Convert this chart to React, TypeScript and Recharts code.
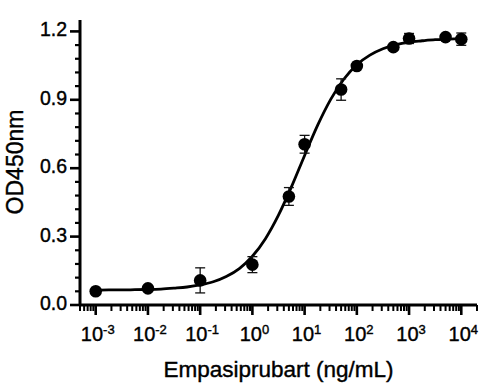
import {
  ComposedChart,
  Line,
  Scatter,
  ErrorBar,
  XAxis,
  YAxis,
  Label,
} from 'recharts'

// measured points (ng/mL vs OD450)
const concentrations = [0.001, 0.01, 0.1, 1, 5, 10, 50, 100, 500, 1000, 5000, 10000]
const odMeans = [0.06, 0.073, 0.108, 0.177, 0.476, 0.705, 0.945, 1.048, 1.131, 1.169, 1.175, 1.166]
const odErrors = [0.005, 0.005, 0.055, 0.035, 0.039, 0.039, 0.047, 0.01, 0.01, 0.022, 0.01, 0.027]

// fitted curve at quarter-decade steps
const curveX = [
  0.001, 0.00178, 0.00316, 0.00562, 0.01, 0.0178, 0.0316, 0.0562, 0.1, 0.178, 0.316, 0.562,
  1, 1.78, 3.16, 5.62, 10, 17.8, 31.6, 56.2, 100, 178, 316, 562, 1000, 1780, 3160, 5620, 10000,
]
const curveY = [
  0.065, 0.066, 0.066, 0.067, 0.068, 0.07, 0.074, 0.079, 0.088, 0.102, 0.125, 0.16,
  0.214, 0.291, 0.394, 0.519, 0.656, 0.789, 0.902, 0.99, 1.054, 1.096, 1.124, 1.142,
  1.153, 1.159, 1.164, 1.166, 1.168,
]

const xDecades = [0.001, 0.01, 0.1, 1, 10, 100, 1000, 10000]
const xMinorSteps = [2, 3, 4, 5, 6, 7, 8, 9]
const yMajorTicks = [0, 0.3, 0.6, 0.9, 1.2]
const yMinorTicks = [0.06, 0.12, 0.18, 0.24, 0.36, 0.42, 0.48, 0.54, 0.66, 0.72, 0.78, 0.84, 0.96, 1.02, 1.08, 1.14]

const FONT = '"Liberation Sans", Arial, Helvetica, sans-serif'
// a hair of stroke makes the text as heavy as in the original
const heavy = { fill: '#000', stroke: '#000', strokeWidth: 0.4 }

const points = concentrations.map((x, i) => ({ x, y: odMeans[i], err: odErrors[i] }))
const curve = curveX.map((x, i) => ({ x, y: curveY[i] }))

const xTicks = [
  0.0005, 0.0006, 0.0007, 0.0008, 0.0009,
  ...xDecades.flatMap((d) => [d, ...(d < 10000 ? xMinorSteps.map((m) => +(d * m).toPrecision(3)) : [])]),
  20000,
]
const yTicks = [...yMajorTicks, ...yMinorTicks].sort((a, b) => a - b)

function XTick(props: any) {
  const { x, y, payload } = props
  const e = Math.log10(payload.value)
  const major = Math.abs(e - Math.round(e)) < 1e-6
  return (
    <g>
      <line x1={x} x2={x} y1={y} y2={y + (major ? 10 : 6)} stroke="#000" strokeWidth={major ? 2.6 : 2} />
      {major && (
        <text x={x + 2} y={y + 36} textAnchor="middle" fontFamily={FONT} fontSize={20} {...heavy}>
          <tspan>10</tspan>
          <tspan dy={-7} fontSize={13}>{Math.round(e)}</tspan>
        </text>
      )}
    </g>
  )
}

function YTick(props: any) {
  const { x, y, payload } = props
  const major = yMajorTicks.some((t) => Math.abs(t - payload.value) < 1e-6)
  return (
    <g>
      <line x1={x - (major ? 10 : 5)} x2={x} y1={y} y2={y} stroke="#000" strokeWidth={major ? 2.6 : 2.2} />
      {major && (
        <text x={x - 13} y={y} dy="0.26em" textAnchor="end" fontFamily={FONT} fontSize={19.5} {...heavy}>
          {payload.value.toFixed(1)}
        </text>
      )}
    </g>
  )
}

export default function App() {
  return (
    <div style={{ position: 'absolute', left: 0, top: 0, background: '#fff' }}>
      <ComposedChart width={494} height={387} margin={{ top: 20, right: 17, bottom: 0, left: 0 }}>
        <XAxis
          dataKey="x"
          type="number"
          scale="log"
          domain={[0.0005, 20000]}
          allowDataOverflow
          ticks={xTicks}
          interval={0}
          tick={<XTick />}
          tickLine={false}
          tickSize={0}
          tickMargin={0}
          height={82}
          axisLine={{ stroke: '#000', strokeWidth: 3 }}
        >
          <Label
            value="Empasiprubart (ng/mL)"
            position="insideBottom"
            offset={10}
            fontFamily={FONT}
            fontSize={22.5}
            {...heavy}
          />
        </XAxis>
        <YAxis
          dataKey="y"
          type="number"
          domain={[0, 1.25]}
          allowDataOverflow
          ticks={yTicks}
          interval={0}
          tick={<YTick />}
          tickLine={false}
          tickSize={0}
          tickMargin={0}
          width={80}
          axisLine={{ stroke: '#000', strokeWidth: 3 }}
        >
          <Label
            content={() => (
              <text
                x={15}
                y={162}
                transform="rotate(-90 15 162)"
                textAnchor="middle"
                dominantBaseline="central"
                fontFamily={FONT}
                fontSize={23}
                {...heavy}
              >
                OD450nm
              </text>
            )}
          />
        </YAxis>
        <Line
          data={curve}
          dataKey="y"
          type="monotone"
          stroke="#000"
          strokeWidth={2.8}
          dot={false}
          activeDot={false}
          isAnimationActive={false}
        />
        <Scatter
          data={points}
          dataKey="y"
          fill="#000"
          isAnimationActive={false}
          shape={(p: any) => <circle cx={p.cx} cy={p.cy} r={6.3} fill="#000" />}
        >
          <ErrorBar dataKey="err" direction="y" width={5} stroke="#111" strokeWidth={1.3} />
        </Scatter>
      </ComposedChart>
    </div>
  )
}
